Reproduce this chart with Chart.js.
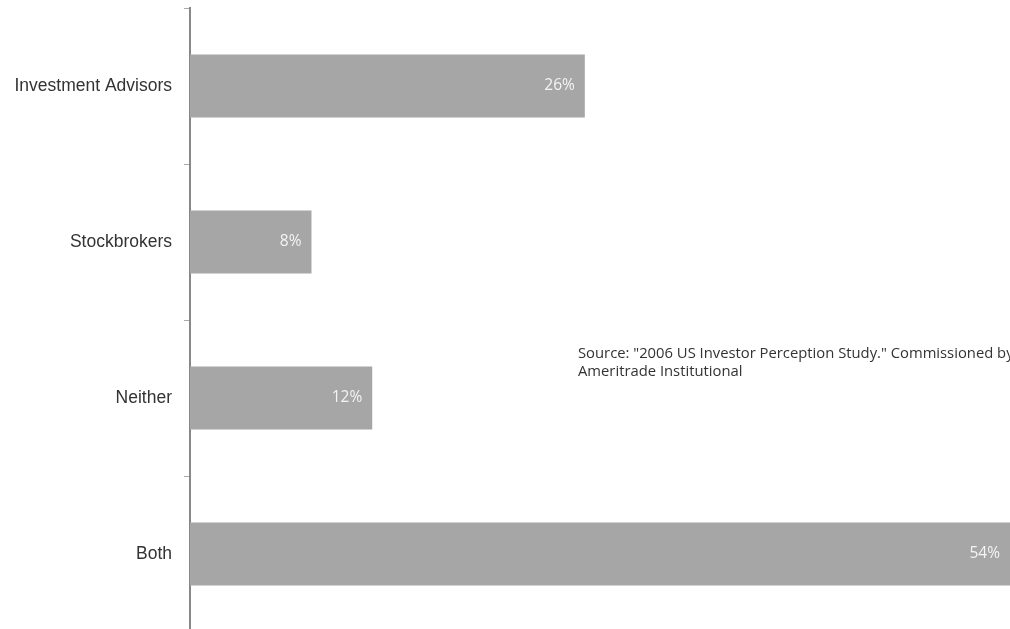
<!DOCTYPE html>
<html>
<head>
<meta charset="utf-8">
<script src="https://cdn.jsdelivr.net/npm/chart.js@4"></script>
<style>
  html, body { margin: 0; padding: 0; background: #fff; overflow: hidden; }
  #wrap { width: 1010px; height: 632px; position: relative; }
</style>
</head>
<body>
<div id="wrap"><canvas id="chart"></canvas></div>
<script>
const categories = ['Investment Advisors', 'Stockbrokers', 'Neither', 'Both'];
const shares = [26, 8, 12, 54];
const valueLabels = ['26%', '8%', '12%', '54%'];
const sourceLines = [
  'Source: "2006 US Investor Perception Study." Commissioned by TD',
  'Ameritrade Institutional'
];

// percentages written inside the bar, near its end
const barLabels = {
  id: 'barLabels',
  afterDatasetsDraw(chart) {
    const ctx = chart.ctx;
    const meta = chart.getDatasetMeta(0);
    ctx.save();
    ctx.font = '15.5px "Open Sans"';
    ctx.fillStyle = '#f4f4f4';
    ctx.textAlign = 'right';
    ctx.textBaseline = 'middle';
    meta.data.forEach((bar, i) => {
      ctx.fillText(valueLabels[i], bar.x - 10, bar.y);
    });
    ctx.restore();
  }
};

const sourceNote = {
  id: 'sourceNote',
  afterDraw(chart) {
    const ctx = chart.ctx;
    ctx.save();
    ctx.font = '14.8px "Open Sans"';
    ctx.fillStyle = '#333';
    ctx.textBaseline = 'middle';
    sourceLines.forEach((t, i) => ctx.fillText(t, 578, 354 + i * 18));
    ctx.restore();
  }
};

new Chart(document.getElementById('chart'), {
  type: 'bar',
  data: {
    labels: categories,
    datasets: [{
      data: shares,
      backgroundColor: '#a6a6a6',
      categoryPercentage: 1,
      barPercentage: 0.405,
    }],
  },
  options: {
    indexAxis: 'y',
    responsive: true,
    maintainAspectRatio: false,
    animation: false,
    layout: { padding: { top: 8, right: 0, bottom: 0, left: 0 } },
    plugins: { legend: { display: false }, tooltip: { enabled: false } },
    scales: {
      x: { display: false, min: 0, max: 54 },
      y: {
        afterFit(scale) {
          scale.width = 190;
          scale.paddingTop = 0;
          scale.paddingBottom = 0;
        },
        border: { color: '#888', width: 2 },
        grid: { offset: true, drawOnChartArea: false, tickLength: 6, color: '#aaa' },
        ticks: { color: '#333', padding: 12, font: { family: 'Liberation Sans', size: 17.5 } },
      },
    },
  },
  plugins: [barLabels, sourceNote],
});
</script>
</body>
</html>
